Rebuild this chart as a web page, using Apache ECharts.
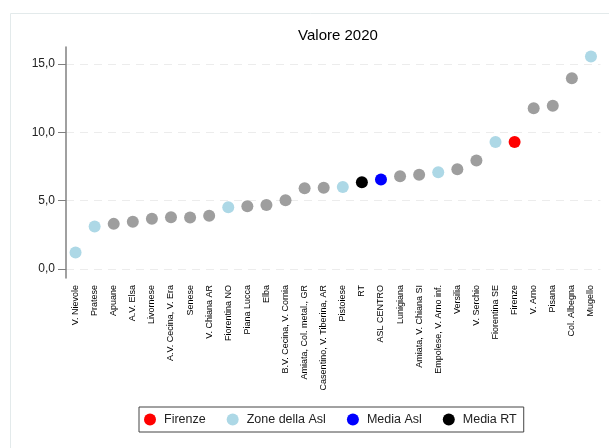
<!DOCTYPE html>
<html>
<head>
<meta charset="utf-8">
<script src="https://cdn.jsdelivr.net/npm/echarts@6/dist/echarts.min.js"></script>
<style>
  html, body { margin: 0; padding: 0; background: #fff; }
  #chart { width: 609px; height: 448px; }
</style>
</head>
<body>
<div id="chart"></div>
<script>
// zone ordinate per valore crescente
var zone = ['V. Nievole', 'Pratese', 'Apuane', 'A.V. Elsa', 'Livornese', 'A.V. Cecina, V. Era', 'Senese',
  'V. Chiana AR', 'Fiorentina NO', 'Piana Lucca', 'Elba', 'B.V. Cecina, V. Cornia', 'Amiata, Col. metal., GR',
  'Casentino, V. Tiberina, AR', 'Pistoiese', 'RT', 'ASL CENTRO', 'Lunigiana', 'Amiata, V. Chiana SI',
  'Empolese, V. Arno inf.', 'Versilia', 'V. Serchio', 'Fiorentina SE', 'Firenze', 'V. Arno', 'Pisana',
  'Col. Albegna', 'Mugello'];
var valori = [1.2, 3.1, 3.3, 3.46, 3.68, 3.78, 3.76, 3.9, 4.51, 4.59, 4.68, 5.02, 5.9, 5.95, 6.0, 6.34, 6.54,
  6.78, 6.9, 7.07, 7.29, 7.93, 9.29, 9.29, 11.76, 11.95, 13.95, 15.54];
// gruppo di appartenenza: A = altre zone, F = Firenze, Z = zone della Asl, M = media Asl, R = media RT
var gruppi = ['Z', 'Z', 'A', 'A', 'A', 'A', 'A', 'A', 'Z', 'A', 'A', 'A', 'A', 'A', 'Z', 'R', 'M', 'A', 'A',
  'Z', 'A', 'A', 'Z', 'F', 'A', 'A', 'A', 'Z'];
var yTicks = [0, 5, 10, 15];

var serieDef = [
  { code: 'A', name: 'Altre zone', color: '#9e9e9e' },
  { code: 'F', name: 'Firenze', color: '#ff0000' },
  { code: 'Z', name: 'Zone della Asl', color: '#add8e6' },
  { code: 'M', name: 'Media Asl', color: '#0000ff' },
  { code: 'R', name: 'Media RT', color: '#000000' }
];

var chart = echarts.init(document.getElementById('chart'));

var series = serieDef.map(function (d) {
  return {
    name: d.name,
    type: 'scatter',
    symbol: 'circle',
    symbolSize: 12,
    itemStyle: { color: d.color, opacity: 1 },
    emphasis: { disabled: true },
    data: valori.map(function (v, i) { return gruppi[i] === d.code ? v : '-'; })
  };
});

chart.setOption({
  animation: false,
  backgroundColor: '#fff',
  textStyle: { fontFamily: 'Liberation Sans, Arial, sans-serif' },
  graphic: [{
    type: 'rect',
    left: 8, top: 11,
    shape: { width: 700, height: 500 },
    style: { fill: 'none', stroke: '#e3eaeb', lineWidth: 1 },
    silent: true
  }],
  title: {
    text: 'Valore 2020',
    left: 333, top: 23,
    textAlign: 'center',
    textStyle: { fontSize: 15, fontWeight: 'normal', color: '#000' }
  },
  legend: {
    data: ['Firenze', 'Zone della Asl', 'Media Asl', 'Media RT'],
    left: 139, top: 407,
    icon: 'circle',
    itemWidth: 12, itemHeight: 12,
    itemGap: 21,
    padding: [6, 7, 6, 5],
    borderColor: '#444', borderWidth: 1,
    textStyle: { fontSize: 12.5, color: '#222', padding: [0, 0, 0, 3] }
  },
  grid: { left: 66, right: 8.5, top: 47, bottom: 170 },
  xAxis: {
    type: 'category',
    data: zone,
    axisLine: { show: false },
    axisTick: { show: false },
    axisLabel: { rotate: 90, fontSize: 9, color: '#000', margin: 7, interval: 0 },
    splitLine: { show: false }
  },
  yAxis: {
    type: 'value',
    min: -0.66, max: 16.24,
    axisLine: { show: true, lineStyle: { color: '#808080', width: 1.5 } },
    axisTick: { show: true, length: 8, customValues: yTicks, lineStyle: { color: '#808080' } },
    axisLabel: {
      customValues: yTicks, fontSize: 12, color: '#222', margin: 11,
      formatter: function (v) { return v.toFixed(1).replace('.', ','); }
    },
    splitLine: { show: true, lineStyle: { color: '#ececec', type: [8, 6] } }
  },
  series: series
});
</script>
</body>
</html>
